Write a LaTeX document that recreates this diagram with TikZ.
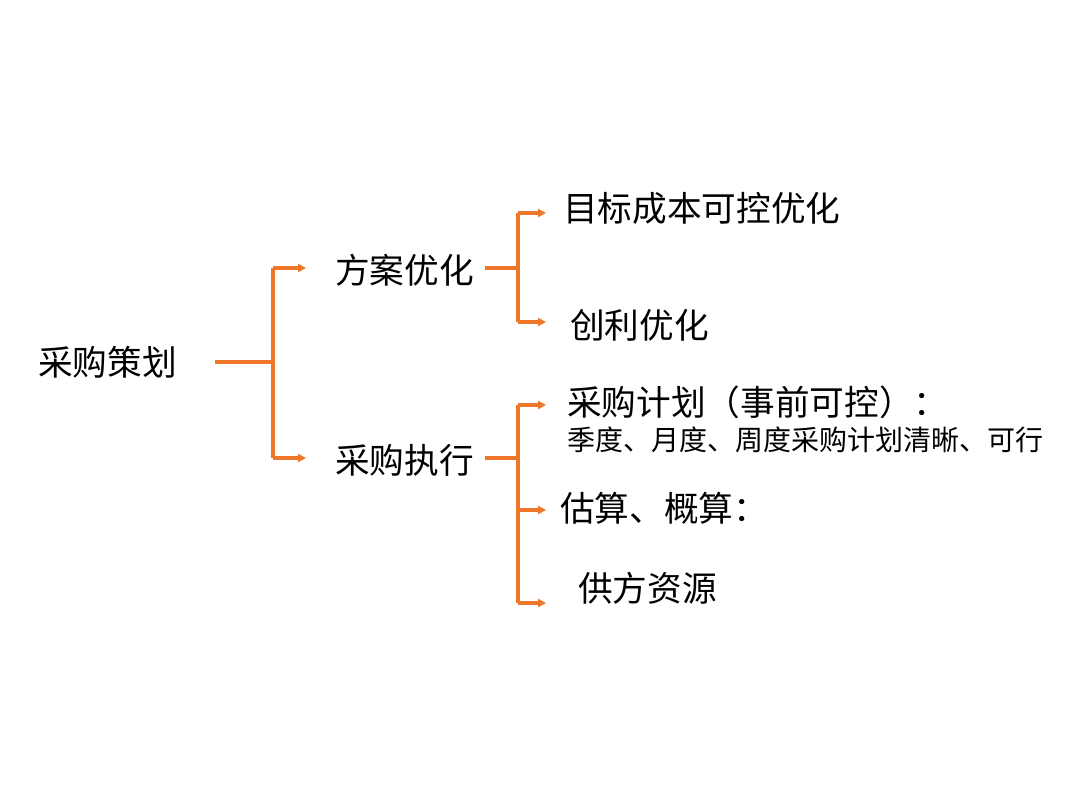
\documentclass[tikz,border=0pt]{standalone}
\usepackage{fontspec}
\newfontfamily\cjk{Noto Sans CJK SC}
\usetikzlibrary{arrows.meta}
\definecolor{org}{RGB}{238,118,40}
\begin{document}
\begin{tikzpicture}[x=0.75pt,y=-0.75pt,
  lbl/.style={anchor=west,inner sep=0,font=\cjk\fontsize{26}{30}\selectfont},
  sm/.style={anchor=west,inner sep=0,font=\cjk\fontsize{21}{25}\selectfont},
  ln/.style={org,line width=2.6pt},
  ar/.style={org,line width=2.6pt,-{Triangle[length=6pt,width=6pt]}}]
\useasboundingbox (0,0) rectangle (1080,810);
\clip (0,0) rectangle (1080,810);
\node[lbl] (root) at (38,362) {采购策划};
\node[lbl] (fa) at (335,270) {方案优化};
\node[lbl] (cg) at (335,460) {采购执行};
\node[lbl] (mb) at (563,208) {目标成本可控优化};
\node[lbl] (cl) at (570,325) {创利优化};
\node[lbl] (jh) at (567,402) {采购计划（事前可控）：};
\node[sm] (jd) at (567,440) {季度、月度、周度采购计划清晰、可行};
\node[lbl] (gs) at (560,508) {估算、概算：};
\node[lbl] (gf) at (578,588) {供方资源};
\coordinate (j1) at (273,362);
\draw[ln] (215,362) -- (j1);
\draw[ln] (273,268) -- (273,458);
\draw[ar] (273,268) -- (306,268);
\draw[ar] (273,458) -- (306,458);
\draw[ln] (485,268) -- (518,268);
\draw[ln] (518,213) -- (518,322);
\draw[ar] (518,213) -- (546,213);
\draw[ar] (518,322) -- (546,322);
\draw[ln] (485,458) -- (518,458);
\draw[ln] (518,405) -- (518,603);
\draw[ar] (518,405) -- (546,405);
\draw[ar] (518,510) -- (546,510);
\draw[ar] (518,603) -- (546,603);
\end{tikzpicture}
\end{document}
